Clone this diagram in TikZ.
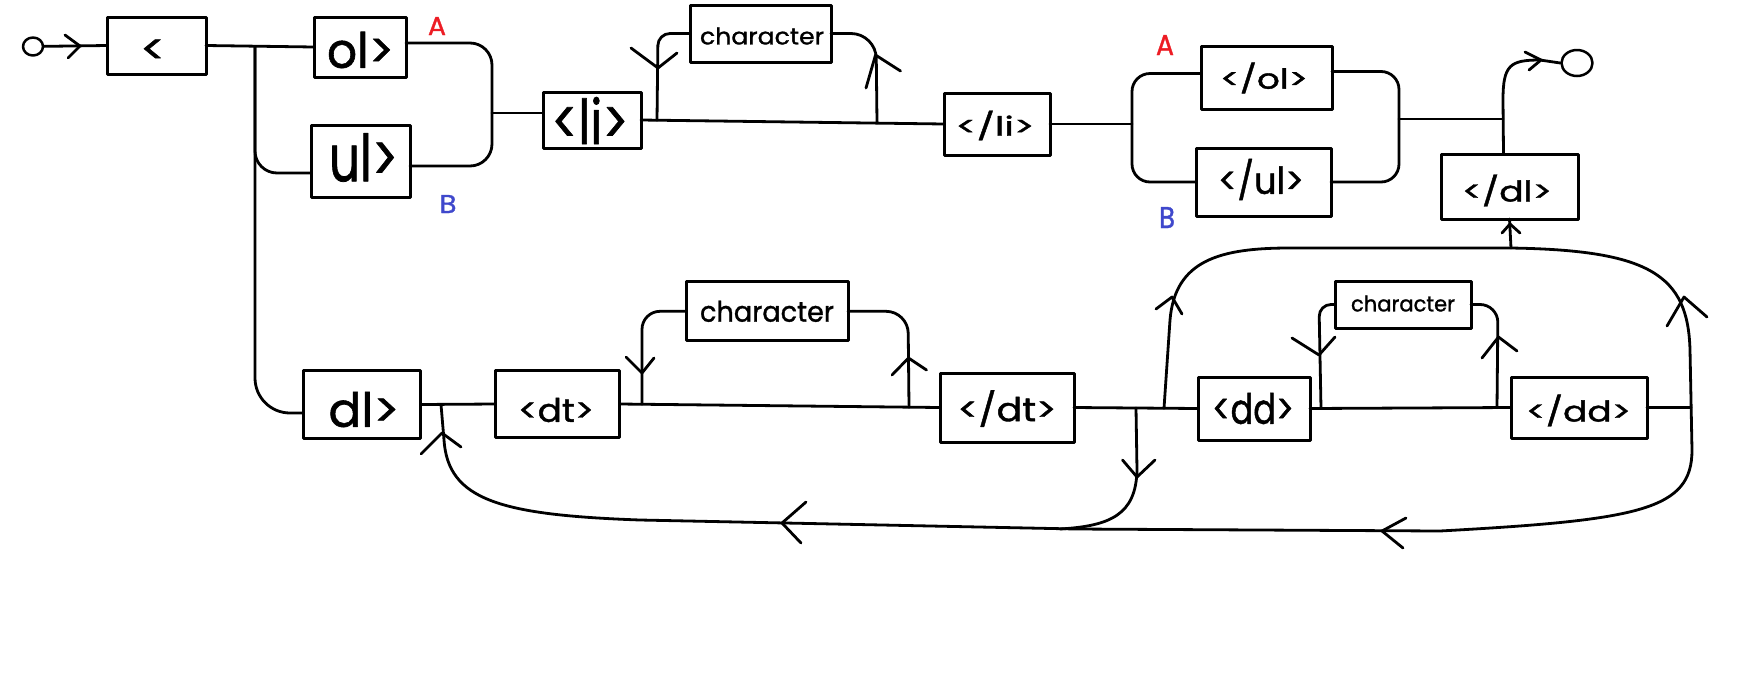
\documentclass[tikz,border=0pt]{standalone}
\usepackage{fontspec}
\setmainfont{Poppins}[FakeBold=1.2]
\usepackage{graphicx}
\usetikzlibrary{shapes.geometric,calc}
\definecolor{lblred}{HTML}{ED1C24}
\definecolor{lblblue}{HTML}{3F48CC}
% text fitted to a measured width/height, shifted by dx (right) and raise (up)
\newcommand\tx[5]{\raisebox{#2pt}[\height][\depth]{\makebox[#3pt]{\hspace{#1pt}\hspace{#1pt}\resizebox{#3pt}{#4pt}{#5}}}}
\newcommand\chv[5]{\draw (#1) ++(#2,#3) -- (#1) -- ++(#4,#5);}
\begin{document}
\begin{tikzpicture}[x=1pt,y=-1pt,line width=2.8pt,line join=round,line cap=round,
  box/.style={draw,rectangle,inner sep=0pt,outer sep=0pt,line width=3pt},
  lbl/.style={inner sep=0pt,outer sep=0pt}]
\fill[white] (0,0) rectangle (1738,673);
\useasboundingbox (0,0) rectangle (1738,673);

% terminals
\node[draw,ellipse,minimum width=20pt,minimum height=18pt,inner sep=0pt,line width=2.5pt] (s) at (33,46.5) {};
\node[draw,ellipse,minimum width=31pt,minimum height=26pt,inner sep=0pt,line width=2.5pt] (e) at (1577,63) {};

% boxes
\node[box,minimum width=99pt,minimum height=57pt] (lt) at (156.5,45.5) {\tx{-3.5}{-6}{26}{24}{<}};
\node[box,minimum width=92pt,minimum height=60pt] (ol) at (360,47) {\tx{0.5}{-3}{67}{36}{ol>}};
\node[box,minimum width=99pt,minimum height=72pt] (ul) at (360.5,161) {\tx{3}{3.5}{69}{48}{ul>}};
\node[box,minimum width=98pt,minimum height=56pt] (li) at (592,120) {\tx{-2}{-0.5}{77}{47}{<li>}};
\node[box,minimum width=141pt,minimum height=57pt] (ch1) at (760.5,33.5) {\tx{1.5}{-2.5}{124}{17}{character}};
\node[box,minimum width=106pt,minimum height=62pt] (li2) at (997,124) {\tx{-2}{-1.5}{79}{25}{</li>}};
\node[box,minimum width=131pt,minimum height=63pt] (ol2) at (1266.5,77.5) {\tx{-2.5}{-0.5}{88}{26}{</ol>}};
\node[box,minimum width=135pt,minimum height=68pt] (ul2) at (1263.5,182) {\tx{-2.5}{2.5}{86}{35}{</ul>}};
\node[box,minimum width=137pt,minimum height=65pt] (dl2) at (1509.5,186.5) {\tx{-2.5}{-4}{90}{27}{</dl>}};
\node[box,minimum width=117pt,minimum height=68pt] (dl) at (362,404.5) {\tx{2}{-5}{71}{35}{dl>}};
\node[box,minimum width=124pt,minimum height=67pt] (dt) at (557.5,404) {\tx{-1.5}{-6}{76}{24}{<dt>}};
\node[box,minimum width=162pt,minimum height=59pt] (ch2) at (767,311.3) {\tx{0}{0}{134}{21}{character}};
\node[box,minimum width=134pt,minimum height=69pt] (dt2) at (1007,407.5) {\tx{0}{-1}{99}{31}{</dt>}};
\node[box,minimum width=112pt,minimum height=63pt] (dd) at (1254,408.5) {\tx{-1}{0}{82}{31}{<dd>}};
\node[box,minimum width=136pt,minimum height=47pt] (ch3) at (1403,304.5) {\tx{0}{1}{104}{16}{character}};
\node[box,minimum width=136pt,minimum height=61pt] (dd2) at (1579,407.5) {\tx{-0.5}{-3}{105}{27}{</dd>}};

% A / B labels
\node[lbl,text=lblred] (la1) at (437,26) {\resizebox{18pt}{18pt}{A}};
\node[lbl,text=lblblue] (lb1) at (448,204) {\resizebox{17pt}{18pt}{B}};
\node[lbl,text=lblred] (la2) at (1165,45) {\resizebox{18pt}{20pt}{A}};
\node[lbl,text=lblblue] (lb2) at (1167,217.5) {\resizebox{16pt}{21pt}{B}};

% junction coordinates
\coordinate (j1) at (255,46.5);
\coordinate (j2) at (492,113);
\coordinate (q1) at (657,120.2);
\coordinate (q2) at (877,123);
\coordinate (j3) at (1132,124);
\coordinate (j4) at (1399,119);
\coordinate (j5) at (1503,119);
\coordinate (j6) at (441,404.5);
\coordinate (q3) at (642,404.3);
\coordinate (q4) at (909,407.2);
\coordinate (j9) at (1136,408);
\coordinate (j8) at (1164,408.3);
\coordinate (q5) at (1321,408.4);
\coordinate (q6) at (1497,407.6);
\coordinate (j7) at (1691,407.5);
\coordinate (j10) at (1511,248);

% top row
\draw (s) -- (lt.west);
\draw (lt.east) -- (ol.west);
\draw[rounded corners=22pt] (j1) -- (255,173) -- ($(ul.west)+(0,12)$);
\draw[rounded corners=35pt] (j1) -- (255,413) -- ($(dl.west)+(0,8.5)$);
\draw[rounded corners=22pt] ($(ol.east)+(0,-4)$) -- (492,43) -- (492,166) -- ($(ul.east)+(0,5)$);
\draw (j2) -- (li.west |- j2);
\draw (li.east) -- (li2.west);
\draw[rounded corners=12pt] (q1) -- (658,33.5) -- (ch1.west);
\draw[rounded corners=25pt] (ch1.east) -- (876,33.5) -- (q2);
\draw (li2.east) -- (j3);
\draw[rounded corners=18pt] ($(ol2.west)+(0,-4)$) -- (1132,73.5) -- (1132,182) -- (ul2.west);
\draw[rounded corners=18pt] ($(ol2.east)+(0,-6)$) -- (1399,71.5) -- (1399,182) -- (ul2.east);
\draw (j4) -- (j5);
\draw ($(dl2.north)+(-6,0)$) -- (1503,100) .. controls (1503,65) and (1510,60) .. (1540,60) -- (e.west);
\draw (j10) -- (dl2.south);

% bottom row
\draw (dl.east) -- (dt.west);
\draw (dt.east) -- (dt2.west);
\draw[rounded corners=18pt] (q3) -- (642,311.3) -- (ch2.west);
\draw[rounded corners=22pt] (ch2.east) -- (908,311.3) -- (q4);
\draw (dt2.east) -- (dd.west);
\draw (dd.east) -- (dd2.west);
\draw[rounded corners=12pt] (q5) -- (1319,304.5) -- (ch3.west);
\draw[rounded corners=18pt] (ch3.east) -- (1498,304.5) -- (q6);
\draw (dd2.east) -- (j7);
% big loops
\draw (j8) -- (1170,320) .. controls (1175,260) and (1220,248) .. (1290,248) -- (1510,248)
  .. controls (1650,250) and (1688,275) .. (1690,350) -- (1692,450)
  .. controls (1692,510) and (1640,520) .. (1440,531) -- (1076,529) -- (640,520)
  .. controls (500,515) and (448,500) .. (444,440) -- (j6);
\draw (j9) -- (1137,470) .. controls (1136,515) and (1110,526) .. (1060,529);

% chevrons
\coordinate (c1) at (80,46);
\coordinate (c2) at (658,68);
\coordinate (c3) at (875.5,55);
\coordinate (c4) at (442,433);
\coordinate (c5) at (782,523);
\coordinate (c6) at (642,373);
\coordinate (c7) at (908.5,358);
\coordinate (c8) at (1137,477);
\coordinate (c9) at (1172,297);
\coordinate (c10) at (1319,355);
\coordinate (c11) at (1498.5,337);
\coordinate (c12) at (1684,297);
\coordinate (c13) at (1382,531);
\coordinate (c14) at (1510,224);
\coordinate (c15) at (1541,60);
\chv{c1}{-15}{-11}{-12}{12}
\chv{c2}{-27}{-20}{19}{-15}
\chv{c3}{-9.5}{33}{25}{16}
\chv{c4}{-21}{21}{19}{14}
\chv{c5}{24}{-21}{19}{20}
\chv{c6}{-16}{-16}{12}{-15}
\chv{c7}{-16.5}{17}{18}{12}
\chv{c8}{-14.5}{-17}{18}{-17}
\chv{c9}{-16}{12}{10}{17}
\chv{c10}{-27}{-17}{16}{-18}
\chv{c11}{-16.5}{21}{18.5}{14}
\chv{c12}{-17}{29}{23}{20}
\chv{c13}{24}{-13}{21}{17}
\chv{c14}{-8}{9}{10}{9}
\chv{c15}{-16}{-8}{-12}{10}
\end{tikzpicture}
\end{document}
